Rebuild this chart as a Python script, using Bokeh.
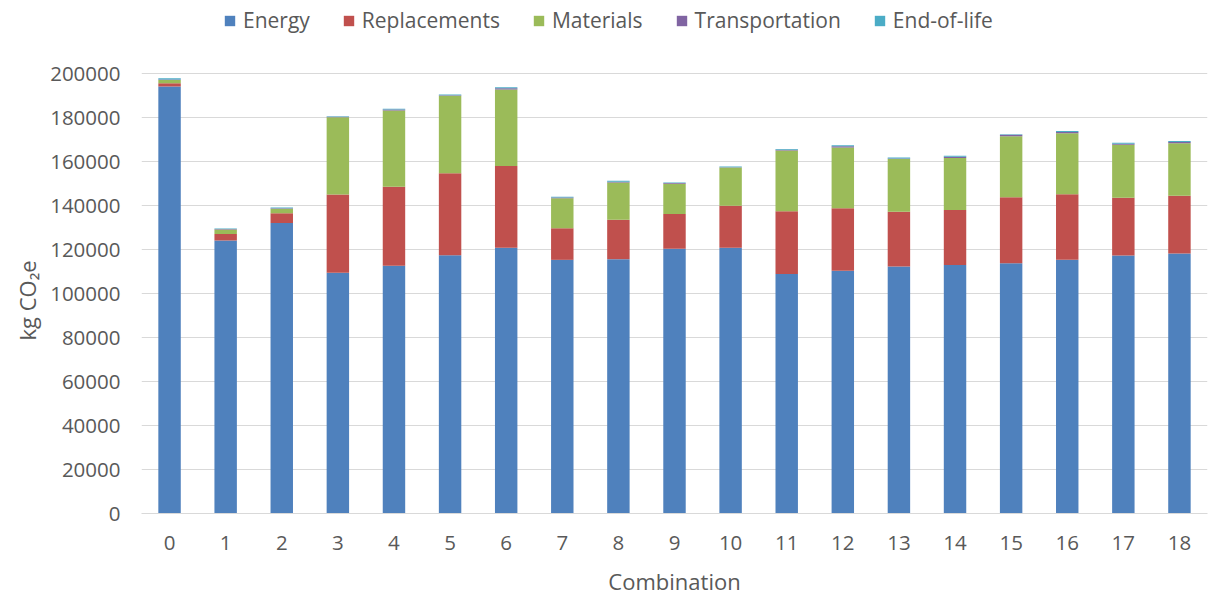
from bokeh.plotting import figure
from bokeh.models import (ColumnDataSource, FactorRange, Range1d, FixedTicker,
                          NumeralTickFormatter, Legend, Title)
from bokeh.embed import file_html
from bokeh.resources import INLINE

categories = [str(i) for i in range(19)]
series_names = ["Energy", "Replacements", "Materials", "Transportation", "End-of-life"]
energy = [194100, 124100, 132100, 109400, 112600, 117400, 120800, 115300, 115600, 120300,
          120800, 108900, 110300, 112300, 113000, 113800, 115300, 117300, 118200]
replacements = [1500, 2900, 4400, 35600, 35900, 37300, 37100, 14400, 17900, 15800,
                19100, 28500, 28500, 24900, 25000, 30000, 29800, 26200, 26200]
materials = [1400, 2100, 2000, 35150, 34700, 35160, 34870, 13600, 16950, 13800,
             17410, 27580, 27560, 23920, 23640, 27710, 27740, 24080, 23920]
transportation = [300, 200, 200, 150, 400, 300, 500, 300, 400, 300,
                  100, 400, 600, 200, 500, 600, 600, 500, 600]
end_of_life = [500, 300, 400, 300, 400, 300, 500, 400, 350, 300,
               300, 350, 400, 500, 500, 300, 450, 400, 400]
y_ticks = list(range(0, 200001, 20000))
colors = ["#4F81BD", "#C0504D", "#9BBB59", "#8064A2", "#4BACC6"]

source = ColumnDataSource(data={
    "cat": categories,
    "Energy": energy,
    "Replacements": replacements,
    "Materials": materials,
    "Transportation": transportation,
    "End-of-life": end_of_life,
})

FONT = "Open Sans"
GREY = "#595959"

p = figure(width=1208, height=599, output_backend="svg", toolbar_location=None,
           x_range=FactorRange(*categories, range_padding=0),
           y_range=Range1d(0, 233182),
           min_border_left=141, min_border_right=1, min_border_top=0, min_border_bottom=86)

renderers = p.vbar_stack(series_names, x="cat", width=0.4, source=source,
                         color=colors, line_color=None)

p.outline_line_color = None
p.xgrid.grid_line_color = None
p.ygrid.grid_line_color = "#D9D9D9"
p.ygrid.grid_line_width = 1

p.yaxis.ticker = FixedTicker(ticks=y_ticks)
p.yaxis.formatter = NumeralTickFormatter(format="0")
p.yaxis.axis_line_color = None
p.yaxis.major_tick_line_color = None
p.yaxis.minor_tick_line_color = None
p.yaxis.major_tick_out = 0
p.yaxis.major_label_standoff = 21
p.yaxis.major_label_text_font = FONT
p.yaxis.major_label_text_font_size = "20.5px"
p.yaxis.major_label_text_color = GREY

p.xaxis.axis_line_color = "#D9D9D9"
p.xaxis.axis_line_width = 1
p.xaxis.major_tick_line_color = None
p.xaxis.major_tick_out = 0
p.xaxis.major_label_standoff = 22
p.xaxis.major_label_text_font = FONT
p.xaxis.major_label_text_font_size = "20.5px"
p.xaxis.major_label_text_color = GREY
p.xaxis.axis_label = "Combination"
p.xaxis.axis_label_text_font = FONT
p.xaxis.axis_label_text_font_size = "22px"
p.xaxis.axis_label_text_font_style = "normal"
p.xaxis.axis_label_text_color = GREY
p.xaxis.axis_label_standoff = 13

ytitle = Title(text="kg CO\u2082e", align="left", offset=173, text_font=FONT,
               text_font_size="22px", text_font_style="normal", text_color=GREY,
               standoff=12)
p.add_layout(ytitle, "left")

legend = Legend(items=[(name, [r]) for name, r in zip(series_names, renderers)],
                orientation="horizontal", location=(82, 479),
                label_text_font=FONT, label_text_font_size="21px", label_text_color=GREY,
                glyph_width=13, glyph_height=13, label_standoff=7, spacing=32,
                padding=0, margin=0, border_line_color=None, background_fill_alpha=0)
p.add_layout(legend, "center")

open("out.html", "w").write(file_html(p, INLINE))
